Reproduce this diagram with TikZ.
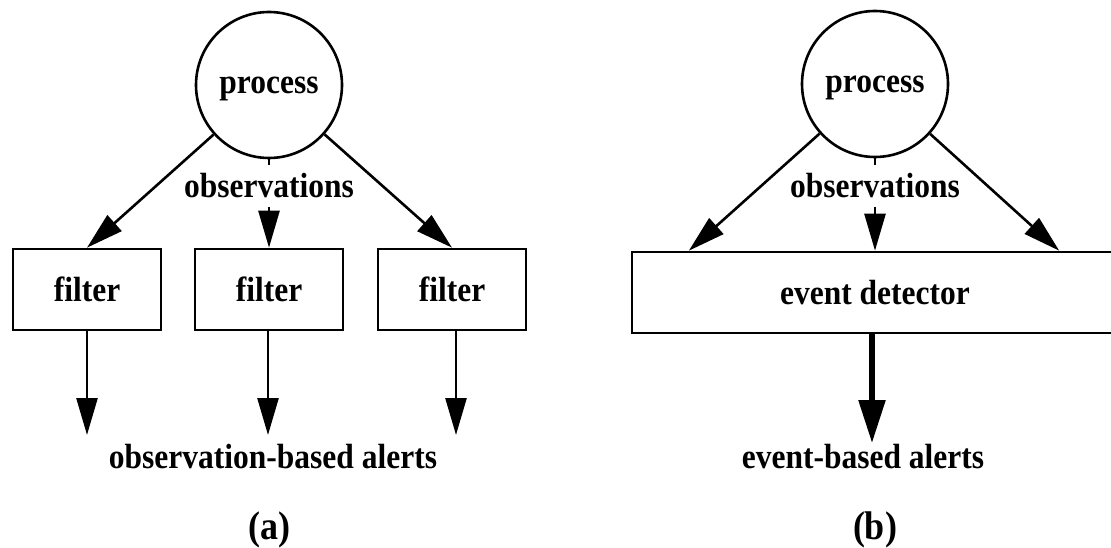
\documentclass[tikz,border=0pt]{standalone}
\usepackage{fontspec}
\setmainfont{Liberation Serif}[FakeStretch=0.9]
\usetikzlibrary{arrows.meta,calc}
\begin{document}
\begin{tikzpicture}[x=1pt,y=-1pt,
  every node/.style={font=\fontsize{35}{40}\selectfont\bfseries},
  proc/.style={draw,circle,line width=2.6pt,minimum size=146pt,inner sep=0pt,text depth=0pt},
  filt/.style={draw,rectangle,line width=2.6pt,minimum width=148pt,minimum height=81pt,inner sep=0pt},
  flow/.style={line width=2.6pt,-{Triangle[length=37pt,width=21pt]}},
  bigflow/.style={line width=5.5pt,-{Triangle[length=43pt,width=26pt]}},
  edgelbl/.style={inner xsep=0pt,inner ysep=8pt},
  lbl/.style={inner sep=0pt,anchor=base},
  tag/.style={inner sep=0pt,anchor=base,font=\fontsize{40}{46}\selectfont\bfseries}]
\useasboundingbox (0,0) rectangle (1111,548);
\clip (0,0) rectangle (1111,548);

% (a) one filter per observation stream
\node[proc] (pa) at (269,85) {process};
\node[filt] (fa1) at (87,289.5) {filter};
\node[filt] (fa2) at (269,289.5) {filter};
\node[filt] (fa3) at (452,289.5) {filter};
\node[edgelbl] (oa) at (269,186) {observations};
\draw[line width=2.6pt] (pa) -- (oa);
\draw[flow] (oa) -- (fa2);
\draw[flow] (pa) -- (fa1.north);
\draw[flow] (pa) -- (fa3.north);
\coordinate (ta1) at (87,435);
\coordinate (ta2) at (268,435);
\coordinate (ta3) at (456,435);
\draw[flow] (ta1 |- fa1.south) -- (ta1);
\draw[flow] (ta2 |- fa2.south) -- (ta2);
\draw[flow] (ta3 |- fa3.south) -- (ta3);
\node[lbl] (oba) at (273,468) {observation-based alerts};
\node[tag] (capa) at (269,539) {(a)};

% (b) one event detector over all observations
\node[proc] (pb) at (875,84) {process};
\node[filt,minimum width=486pt] (ed) at (875,292.5) {event detector};
\node[edgelbl] (ob) at (875,186) {observations};
\coordinate (edl) at ($(ed.north west)!0.119!(ed.north east)$);
\coordinate (edr) at ($(ed.north west)!0.877!(ed.north east)$);
\draw[line width=2.6pt] (pb) -- (ob);
\draw[flow] (ob) -- (ob |- ed.north);
\draw[flow] (pb) -- (edl);
\draw[flow] (pb) -- (edr);
\coordinate (tb) at (872,443);
\draw[bigflow] (tb |- ed.south) -- (tb);
\node[lbl] (ebb) at (863,468) {event-based alerts};
\node[tag] (capb) at (875,539) {(b)};
\end{tikzpicture}
\end{document}
